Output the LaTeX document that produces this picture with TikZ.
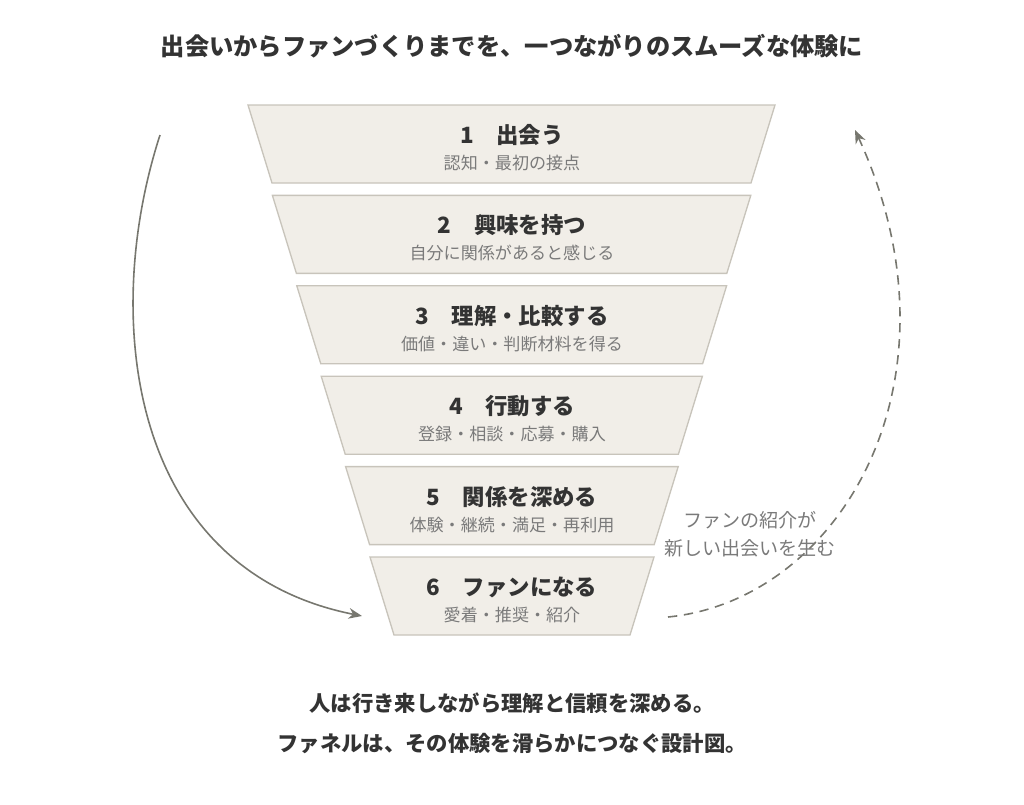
\documentclass[tikz,border=0pt]{standalone}
\usepackage{fontspec}
\setmainfont{Noto Sans CJK JP}
\usetikzlibrary{arrows.meta}
\definecolor{fillc}{HTML}{F1EEE8}
\definecolor{edgec}{HTML}{C8C4BB}
\definecolor{darkt}{HTML}{333333}
\definecolor{subt}{HTML}{7A7A7A}
\definecolor{arrc}{HTML}{77776F}
\begin{document}
\begin{tikzpicture}[x=0.75pt,y=-0.75pt,
  tz/.style={fill=fillc,draw=edgec,line width=1pt},
  ttl/.style={text=darkt,font=\bfseries\fontsize{16.8}{19}\selectfont},
  sub/.style={text=subt,font=\fontsize{12.8}{15}\selectfont},
  big/.style={text=darkt,font=\bfseries\fontsize{18.2}{21}\selectfont},
  bot/.style={text=darkt,font=\bfseries\fontsize{16}{19}\selectfont},
  lab/.style={text=subt,font=\fontsize{14.3}{17}\selectfont},
  arr/.style={draw=arrc,line width=1.2pt,-{Stealth[length=10pt,width=8pt]}}]
\useasboundingbox (0,0) rectangle (1024,804);
\node[big] (title) at (512,46) {出会いからファンづくりまでを、一つながりのスムーズな体験に};
\foreach \i/\t/\s in {0/1\quad 出会う/認知・最初の接点,1/2\quad 興味を持つ/自分に関係があると感じる,2/3\quad 理解・比較する/価値・違い・判断材料を得る,3/4\quad 行動する/登録・相談・応募・購入,4/5\quad 関係を深める/体験・継続・満足・再利用,5/6\quad ファンになる/愛着・推奨・紹介}{
  \pgfmathsetmacro{\ty}{105+90.4*\i}
  \pgfmathsetmacro{\xl}{248+24.4*\i}
  \pgfmathsetmacro{\xr}{775-24.2*\i}
  \draw[tz] (\xl,\ty) -- (\xr,\ty) -- (\xr-24,\ty+78) -- (\xl+24,\ty+78) -- cycle;
  \node[ttl] (t\i) at (512,\ty+30) {\t};
  \node[sub] (s\i) at (512,\ty+58) {\s};
}
\coordinate (la) at (160,135);
\coordinate (lb) at (362,616);
\draw[arr] (la) .. controls (100,320) and (130,570) .. (lb);
\coordinate (ra) at (668,617);
\coordinate (rb) at (855,130);
\draw[arr,dashed,dash pattern=on 7pt off 5pt] (ra) .. controls (840,600) and (970,380) .. (rb);
\node[lab] (n1) at (750,520) {ファンの紹介が};
\node[lab] (n2) at (750,548) {新しい出会いを生む};
\node[bot] (b1) at (512,703) {人は行き来しながら理解と信頼を深める。};
\node[bot] (b2) at (512,744) {ファネルは、その体験を滑らかにつなぐ設計図。};
\end{tikzpicture}
\end{document}
